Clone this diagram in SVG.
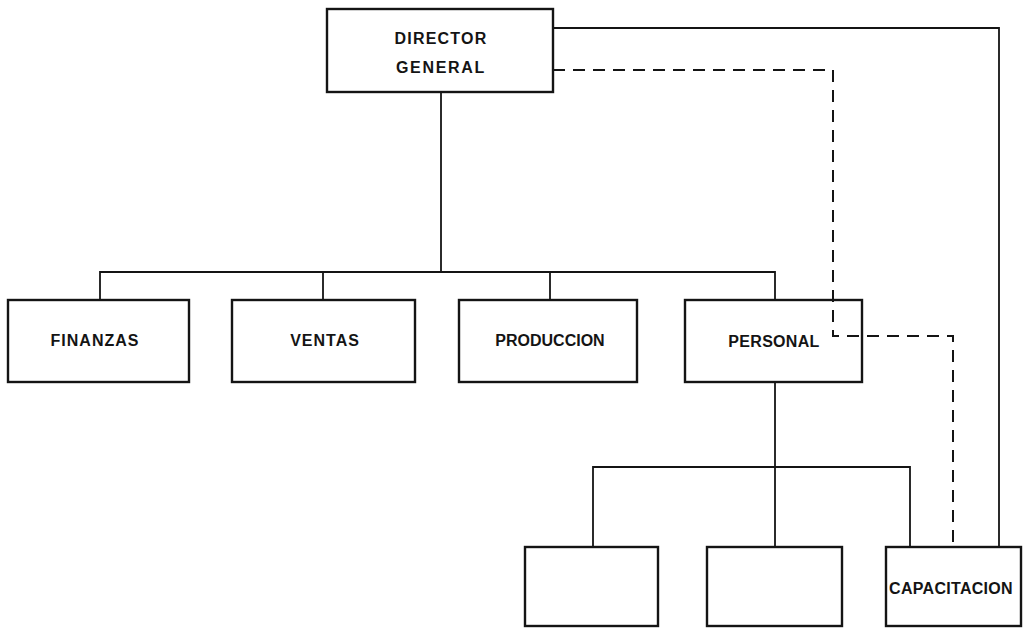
<svg xmlns="http://www.w3.org/2000/svg" width="1023" height="629" viewBox="0 0 1023 629">
  <style>
    .box { fill: none; stroke: #141414; stroke-width: 2.4; }
    .link { fill: none; stroke: #141414; stroke-width: 1.8; }
    .dash { fill: none; stroke: #141414; stroke-width: 2; stroke-dasharray: 12 8; }
    .lbl { font-family: "Liberation Sans", Arial, sans-serif; font-weight: bold; font-size: 16px; fill: #141414; text-anchor: middle; }
  </style>
  <rect width="1023" height="629" fill="#ffffff"/>

  <!-- reporting lines -->
  <g id="connectors">
    <polyline class="link" points="441,92 441,272"/>
    <polyline class="link" points="100,300 100,272 775,272 775,300"/>
    <line class="link" x1="323" y1="272" x2="323" y2="300"/>
    <line class="link" x1="550" y1="272" x2="550" y2="300"/>
    <line class="link" x1="775" y1="382" x2="775" y2="547"/>
    <polyline class="link" points="593,547 593,467 910,467 910,547"/>
    <polyline class="link" points="553,28 999,28 999,547"/>
    <polyline class="dash" points="553,70 833,70 833,336 953,336 953,547"/>
  </g>

  <g id="director">
    <rect class="box" x="327" y="9" width="226" height="83" stroke-width="3"/>
    <text class="lbl" x="441" y="44" letter-spacing="1.2">DIRECTOR</text>
    <text class="lbl" x="441" y="73" letter-spacing="1.7">GENERAL</text>
  </g>
  <g id="finanzas">
    <rect class="box" x="8" y="300" width="181" height="82"/>
    <text class="lbl" x="95" y="346" letter-spacing="1">FINANZAS</text>
  </g>
  <g id="ventas">
    <rect class="box" x="232" y="300" width="183" height="82"/>
    <text class="lbl" x="325" y="346" letter-spacing="1">VENTAS</text>
  </g>
  <g id="produccion">
    <rect class="box" x="459" y="300" width="178" height="82"/>
    <text class="lbl" x="550" y="346" font-size="15">PRODUCCION</text>
  </g>
  <g id="personal">
    <rect class="box" x="685" y="300" width="177" height="82"/>
    <text class="lbl" x="774" y="347" font-size="15.5" letter-spacing="0.3">PERSONAL</text>
  </g>
  <g id="sub1">
    <rect class="box" x="525" y="547" width="133" height="79"/>
  </g>
  <g id="sub2">
    <rect class="box" x="707" y="547" width="135" height="79"/>
  </g>
  <g id="capacitacion">
    <rect class="box" x="886" y="547" width="135" height="79"/>
    <text class="lbl" x="951" y="594" font-size="13.5" letter-spacing="0.3">CAPACITACION</text>
  </g>
</svg>
